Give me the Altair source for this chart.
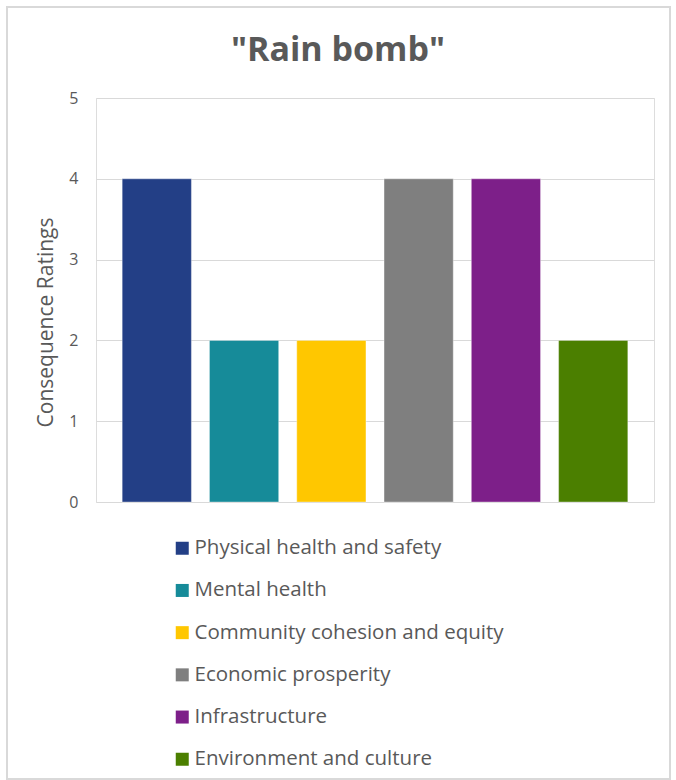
import altair as alt
import pandas as pd

categories = [
    "Physical health and safety",
    "Mental health",
    "Community cohesion and equity",
    "Economic prosperity",
    "Infrastructure",
    "Environment and culture",
]
ratings = [4, 2, 2, 4, 4, 2]
colors = ["#233F86", "#168B99", "#FFC700", "#7F7F7F", "#7D1F89", "#4B7F00"]

df = pd.DataFrame({"category": categories, "rating": ratings})

FONT = "Open Sans"
TXT = "#595959"

bars = alt.Chart(df).mark_bar(stroke="#ffffff", strokeWidth=0.6, strokeOpacity=0.6).encode(
    x=alt.X("category:N", sort=categories, axis=None,
            scale=alt.Scale(paddingInner=0.207, paddingOuter=0.30)),
    y=alt.Y("rating:Q", scale=alt.Scale(domain=[0, 5]),
            axis=alt.Axis(values=[0, 1, 2, 3, 4, 5], title="Consequence Ratings",
                          domain=False, ticks=False, labelPadding=18,
                          labelFontSize=16, labelColor=TXT, labelFont=FONT,
                          titleFontSize=21, titleFont=FONT, titleColor=TXT,
                          titleFontWeight="normal", titlePadding=12, titleY=224,
                          gridColor="#D9D9D9", gridWidth=1)),
    color=alt.Color("category:N", sort=categories,
                    scale=alt.Scale(domain=categories, range=colors),
                    legend=alt.Legend(title=None, orient="none", legendX=76, legendY=440,
                                      direction="vertical", symbolType="square",
                                      symbolSize=169, symbolStrokeWidth=0,
                                      labelFontSize=20.5, labelFont=FONT, labelColor=TXT,
                                      labelOffset=2, rowPadding=21.2, labelLimit=400)),
)

border = alt.Chart(df).mark_rect(fill=None, stroke="#D9D9D9", strokeWidth=1.5).encode(
    x=alt.value(-89), x2=alt.value(574), y=alt.value(-91), y2=alt.value(681)
)

chart = alt.layer(border, bars).properties(
    width=558, height=404,
    title=alt.TitleParams(text='"Rain bomb"', fontSize=34, fontWeight="bold", color=TXT,
                          font=FONT, anchor="middle", dx=-37, offset=-62),
    autosize=alt.AutoSizeParams(type="none"),
    padding={"left": 96, "top": 98, "right": 22, "bottom": 278},
).configure_view(stroke="transparent", strokeWidth=0).configure(background="white")

chart.save("out.html", embed_options={"renderer": "svg", "actions": False})
